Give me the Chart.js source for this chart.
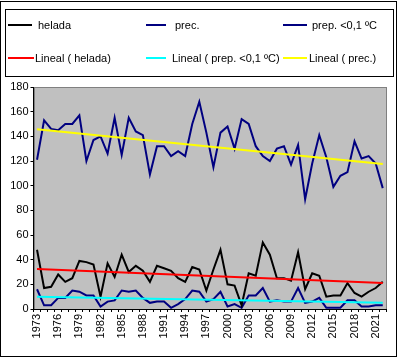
<!DOCTYPE html>
<html>
<head>
<meta charset="utf-8">
<script src="https://cdn.jsdelivr.net/npm/chart.js@4/dist/chart.umd.min.js"></script>
<style>
  body { margin: 0; background: #fff; }
  canvas { display: block; }
</style>
</head>
<body>
<canvas id="chart" width="398" height="358"></canvas>
<script>
// años 1973 - 2022
const years = [
    '1973', '1974', '1975', '1976', '1977', '1978', '1979', '1980', '1981', '1982',
    '1983', '1984', '1985', '1986', '1987', '1988', '1989', '1990', '1991', '1992',
    '1993', '1994', '1995', '1996', '1997', '1998', '1999', '2000', '2001', '2002',
    '2003', '2004', '2005', '2006', '2007', '2008', '2009', '2010', '2011', '2012',
    '2013', '2014', '2015', '2016', '2017', '2018', '2019', '2020', '2021', '2022'
];

const helada = [
    48, 17, 18, 28, 22, 25, 39, 38, 36, 10,
    37, 26, 44, 30, 35, 31, 22, 35, 33, 31,
    25, 22, 34, 32, 15, 32, 48, 20, 19, 3,
    29, 27, 54, 44, 25, 25, 23, 46, 16, 29,
    27, 10, 11, 11, 21, 13, 10, 14, 17, 22
];

const prec = [
    121, 153, 146, 145, 150, 150, 157, 120, 137, 140,
    126, 155, 125, 155, 144, 141, 109, 132, 132, 124,
    128, 124, 150, 168, 143, 115, 143, 148, 130, 154,
    150, 132, 124, 120, 130, 132, 117, 133, 89, 118,
    141, 123, 99, 108, 111, 136, 122, 124, 118, 98
];

const prepBajo = [
    16, 3, 3, 9, 9, 15, 14, 11, 11, 2,
    6, 7, 15, 14, 15, 9, 5, 6, 6, 1,
    4, 8, 15, 14, 6, 8, 14, 2, 4, 1,
    11, 11, 17, 6, 7, 6, 6, 17, 5, 6,
    9, 1, 1, 1, 7, 7, 2, 2, 3, 3
];

// extremos de las líneas de tendencia
const tendHelada = [32.5, 21];
const tendPrepBajo = [10, 5];
const tendPrec = [145.7, 117.5];

const yTicks = [0, 20, 40, 60, 80, 100, 120, 140, 160, 180];

const FONT = '"Liberation Sans", Arial, sans-serif';

function trendData(ends) {
    const last = years.length - 1;
    return years.map((_, i) => (i === 0 ? ends[0] : i === last ? ends[1] : null));
}

// fondo gris del área de trazado + marco exterior
const fondoPlugin = {
    id: 'fondo',
    beforeDraw(chart) {
        const { ctx, chartArea: a } = chart;
        ctx.save();
        ctx.fillStyle = '#C0C0C0';
        ctx.fillRect(a.left, a.top, a.right - a.left, a.bottom - a.top);
        ctx.strokeStyle = '#808080';
        ctx.lineWidth = 1;
        ctx.strokeRect(Math.round(a.left) + 0.5, Math.round(a.top) + 0.5,
            Math.round(a.right - a.left) - 1, Math.round(a.bottom - a.top));
        ctx.strokeStyle = '#000';
        ctx.strokeRect(0.5, 1.5, 396, 355);
        ctx.restore();
    }
};

// leyenda dibujada a mano, en dos filas
const leyendaPlugin = {
    id: 'leyenda',
    afterDraw(chart) {
        const { ctx } = chart;
        const ds = chart.data.datasets;
        const pos = [
            { x1: 8, x2: 32, tx: 38, y: 25 },
            { x1: 146, x2: 166, tx: 175, y: 25 },
            { x1: 283, x2: 307, tx: 312, y: 25 },
            { x1: 8, x2: 34, tx: 35, y: 58 },
            { x1: 146, x2: 166, tx: 172, y: 58 },
            { x1: 283, x2: 307, tx: 309, y: 58 }
        ];
        ctx.save();
        ctx.strokeStyle = '#000';
        ctx.lineWidth = 1;
        ctx.strokeRect(5.5, 9.5, 388, 67);
        ctx.font = '11px ' + FONT;
        ctx.textBaseline = 'middle';
        ctx.fillStyle = '#000';
        ds.forEach((d, i) => {
            const p = pos[i];
            ctx.strokeStyle = d.borderColor;
            ctx.lineWidth = 2;
            ctx.beginPath();
            ctx.moveTo(p.x1, p.y);
            ctx.lineTo(p.x2, p.y);
            ctx.stroke();
            ctx.fillText(d.label, p.tx, p.y + 1);
        });
        ctx.restore();
    }
};

new Chart(document.getElementById('chart'), {
    type: 'line',
    data: {
        labels: years,
        datasets: [
            { label: 'helada', data: helada, borderColor: '#000000', order: 1 },
            { label: 'prec.', data: prec, borderColor: '#000080', order: 1 },
            { label: 'prep. <0,1 ºC', data: prepBajo, borderColor: '#000080', order: 1 },
            { label: 'Lineal ( helada)', data: trendData(tendHelada), borderColor: '#FF0000', spanGaps: true, order: 0 },
            { label: 'Lineal ( prep. <0,1 ºC)', data: trendData(tendPrepBajo), borderColor: '#00FFFF', spanGaps: true, order: 0 },
            { label: 'Lineal ( prec.)', data: trendData(tendPrec), borderColor: '#FFFF00', spanGaps: true, order: 0 }
        ]
    },
    options: {
        responsive: false,
        animation: false,
        devicePixelRatio: 1,
        layout: { padding: { left: 0, right: 5, top: 87, bottom: 2 } },
        elements: {
            line: { borderWidth: 2, tension: 0 },
            point: { radius: 0 }
        },
        plugins: {
            legend: { display: false },
            tooltip: { enabled: false }
        },
        scales: {
            x: {
                offset: true,
                grid: {
                    offset: true,
                    drawOnChartArea: false,
                    drawTicks: true,
                    tickLength: 3,
                    color: '#000'
                },
                border: { color: '#000', width: 1 },
                ticks: {
                    autoSkip: false,
                    maxRotation: 90,
                    minRotation: 90,
                    padding: 2,
                    color: '#000',
                    font: { family: FONT, size: 11 },
                    callback: function (value, index) {
                        return index % 3 === 0 ? years[index] : '';
                    }
                },
                afterFit(scale) { scale.height = 47; }
            },
            y: {
                min: 0,
                max: 180,
                afterBuildTicks(scale) { scale.ticks = yTicks.map(v => ({ value: v })); },
                grid: {
                    drawOnChartArea: false,
                    drawTicks: true,
                    tickLength: 3,
                    color: '#000'
                },
                border: { color: '#000', width: 1 },
                ticks: {
                    padding: 2,
                    color: '#000',
                    font: { family: FONT, size: 11 }
                },
                afterFit(scale) { scale.width = 33.5; }
            }
        }
    },
    plugins: [fondoPlugin, leyendaPlugin]
});
</script>
</body>
</html>
